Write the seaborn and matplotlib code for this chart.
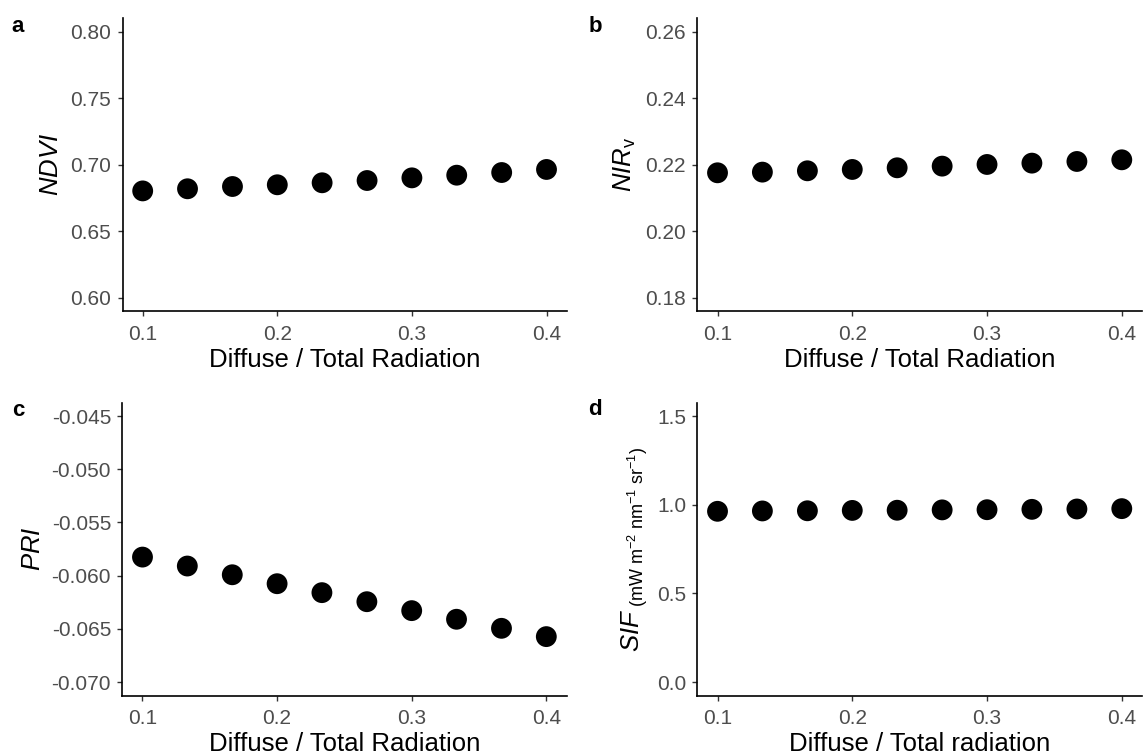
import matplotlib
matplotlib.use('Agg')
import matplotlib.pyplot as plt
import seaborn as sns
import pandas as pd

# ---- data ----
ratio = [0.1, 0.1333, 0.1667, 0.2, 0.2333, 0.2667, 0.3, 0.3333, 0.3667, 0.4]
ndvi = [0.6804, 0.6820, 0.6837, 0.6850, 0.6865, 0.6882, 0.6902, 0.6922, 0.6942, 0.6965]
nirv = [0.2176, 0.2178, 0.2182, 0.2186, 0.2191, 0.2196, 0.2201, 0.2205, 0.2210, 0.2215]
pri = [-0.05825, -0.05909, -0.05991, -0.06075, -0.06159, -0.06244, -0.06328, -0.06409, -0.06494, -0.06572]
sif = [0.963, 0.965, 0.966, 0.968, 0.969, 0.971, 0.972, 0.974, 0.976, 0.978]

x_ticks = [0.1, 0.2, 0.3, 0.4]
x_ticklabels = ['0.1', '0.2', '0.3', '0.4']
ndvi_ticks = [0.60, 0.65, 0.70, 0.75, 0.80]
ndvi_ticklabels = ['0.60', '0.65', '0.70', '0.75', '0.80']
nirv_ticks = [0.18, 0.20, 0.22, 0.24, 0.26]
nirv_ticklabels = ['0.18', '0.20', '0.22', '0.24', '0.26']
pri_ticks = [-0.070, -0.065, -0.060, -0.055, -0.050, -0.045]
pri_ticklabels = ['-0.070', '-0.065', '-0.060', '-0.055', '-0.050', '-0.045']
sif_ticks = [0.0, 0.5, 1.0, 1.5]
sif_ticklabels = ['0.0', '0.5', '1.0', '1.5']

panel_letters = ['a', 'b', 'c', 'd']
ylabels = [r'$NDVI$', r'$NIR_{\mathrm{v}}$', r'$PRI$',
           r'$SIF_{\ \mathrm{(mW\ m^{-2}\ nm^{-1}\ sr^{-1})}}$']
xlabels = ['Diffuse / Total Radiation', 'Diffuse / Total Radiation',
           'Diffuse / Total Radiation', 'Diffuse / Total radiation']

# ---- style ----
sns.set_theme(style='ticks')
plt.rcParams['font.family'] = ['Liberation Sans', 'DejaVu Sans']
plt.rcParams['mathtext.fontset'] = 'custom'
plt.rcParams['mathtext.rm'] = 'Liberation Sans'
plt.rcParams['mathtext.it'] = 'Liberation Sans:italic'
plt.rcParams['mathtext.bf'] = 'Liberation Sans:bold'
plt.rcParams['axes.unicode_minus'] = False

W, H = 1144, 756
fig = plt.figure(figsize=(W / 100, H / 100), dpi=100)
fig.patch.set_facecolor('white')


def ax_at(l, t, r, b):
    return fig.add_axes([l / W, 1 - b / H, (r - l) / W, (b - t) / H])


boxes = [(122.5, 18.3, 566.7, 311.3),
         (697.3, 18.3, 1142.0, 311.3),
         (122.3, 402.7, 566.5, 695.5),
         (697.3, 402.7, 1142.0, 695.5)]
series = [ndvi, nirv, pri, sif]
yticks = [ndvi_ticks, nirv_ticks, pri_ticks, sif_ticks]
yticklabels = [ndvi_ticklabels, nirv_ticklabels, pri_ticklabels, sif_ticklabels]
letter_pos = [(18, 26), (595, 26), (18, 410), (595, 409)]

for i in range(4):
    ax = ax_at(*boxes[i])
    df = pd.DataFrame({'x': ratio, 'y': series[i]})
    sns.scatterplot(data=df, x='x', y='y', ax=ax, color='black', s=225,
                    linewidth=0, edgecolor='none', legend=False)
    ax.set_facecolor('white')
    yt = yticks[i]
    yr = yt[-1] - yt[0]
    ax.set_xlim(0.085, 0.415)
    ax.set_ylim(yt[0] - 0.05 * yr, yt[-1] + 0.05 * yr)
    ax.set_xticks(x_ticks)
    ax.set_xticklabels(x_ticklabels)
    ax.set_yticks(yt)
    ax.set_yticklabels(yticklabels[i])
    sns.despine(ax=ax)
    for s in ['left', 'bottom']:
        ax.spines[s].set_linewidth(1.2)
        ax.spines[s].set_color('black')
    ax.tick_params(axis='both', length=3.6, width=1.0, color='#333333',
                   labelsize=15, labelcolor='#4D4D4D')
    ax.tick_params(axis='x', pad=6)
    ax.tick_params(axis='y', pad=4.5)
    ax.set_xlabel(xlabels[i], fontsize=18.5, color='black', labelpad=3)
    ax.set_ylabel(ylabels[i], fontsize=18.5, color='black', labelpad=5)
    lx, ly = letter_pos[i]
    fig.text(lx / W, 1 - ly / H, panel_letters[i], fontsize=16, weight='bold',
             ha='center', va='center', color='black')

fig.savefig('out.png', dpi=100, facecolor='white')
